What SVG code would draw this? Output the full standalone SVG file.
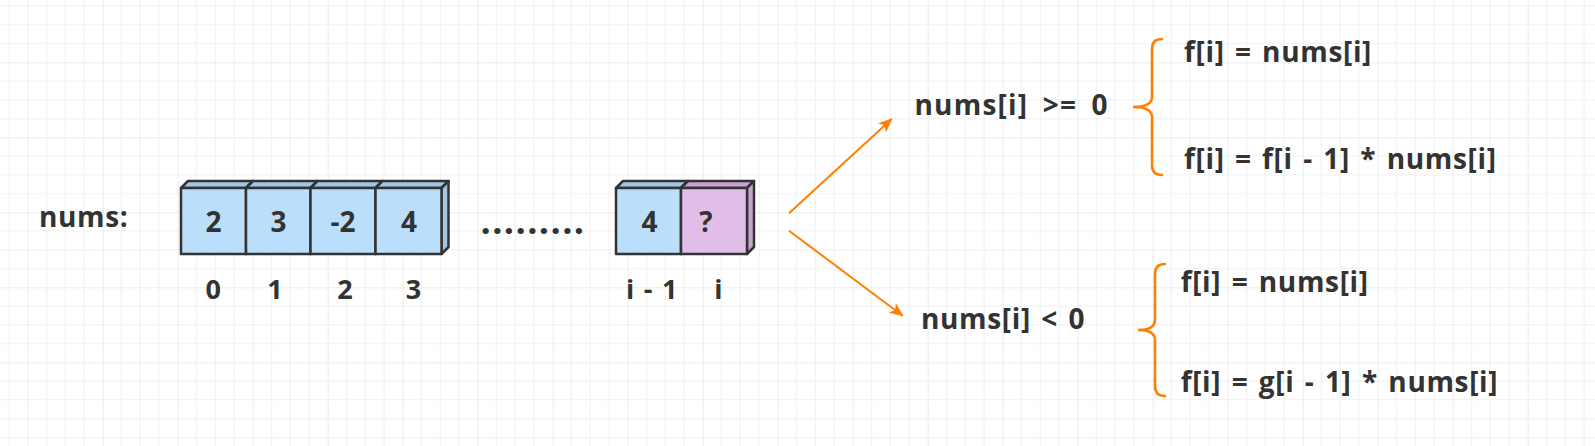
<svg xmlns="http://www.w3.org/2000/svg" width="1595" height="446" viewBox="0 0 1595 446">
<defs>
<pattern id="grid" patternUnits="userSpaceOnUse" x="27.7" y="62.3" width="75" height="75">
<rect width="75" height="75" fill="#ffffff"/>
<rect x="18.25" y="0" width="1" height="75" fill="#f0f0f0"/>
<rect x="37" y="0" width="1" height="75" fill="#f0f0f0"/>
<rect x="55.75" y="0" width="1" height="75" fill="#f0f0f0"/>
<rect x="0" y="18.25" width="75" height="1" fill="#f0f0f0"/>
<rect x="0" y="37" width="75" height="1" fill="#f0f0f0"/>
<rect x="0" y="55.75" width="75" height="1" fill="#f0f0f0"/>
<rect x="-0.5" y="0" width="1.2" height="75" fill="#e4e4e4"/>
<rect x="0" y="-0.5" width="75" height="1.2" fill="#e4e4e4"/>
</pattern>
<marker id="arrow" viewBox="0 0 14 12" refX="13" refY="6" markerWidth="14" markerHeight="12" markerUnits="userSpaceOnUse" orient="auto">
<path d="M0,0 L14,6 L0,12 L3.5,6 Z" fill="#ff8000"/>
</marker>
</defs>
<style>
.t{font-family:"Open Sans","Noto Sans","DejaVu Sans",sans-serif;font-weight:700;fill:#333333;font-size:28px;letter-spacing:0.66px;word-spacing:2.5px}
.d{font-family:"Open Sans","Noto Sans","DejaVu Sans",sans-serif;font-weight:700;fill:#333333;font-size:28px;text-anchor:middle}
.idx{text-anchor:middle;letter-spacing:0;font-size:27px}
.wide{word-spacing:6px;letter-spacing:1.2px}
.front{stroke:#333333;stroke-width:2.5;stroke-linejoin:round}
.blue .front{fill:#bbdefb}
.blue .face{fill:#a3c6e4;stroke:#333333;stroke-width:2.5;stroke-linejoin:round}
.purple .front{fill:#e1bee7}
.purple .face{fill:#c9a3cf;stroke:#333333;stroke-width:2.5;stroke-linejoin:round}
.conn{stroke:#ff8000;stroke-width:2;fill:none}
.brace{stroke:#ff8000;stroke-width:2.5;fill:none;stroke-linecap:round}
</style>
<rect x="0" y="0" width="1595" height="446" fill="url(#grid)"/>

<g id="label-nums"><text class="t" x="39" y="226.7">nums:</text></g>

<g id="cell-0" class="blue">
<polygon class="face" points="181,188 188,181 253,181 246,188"/>
<polygon class="face" points="246,188 253,181 253,247 246,254"/>
<rect class="front" x="181" y="188" width="65" height="66"/>
<text class="d" x="213.5" y="231.5">2</text>
</g>
<g id="cell-1" class="blue">
<polygon class="face" points="246,188 253,181 317.5,181 310.5,188"/>
<polygon class="face" points="310.5,188 317.5,181 317.5,247 310.5,254"/>
<rect class="front" x="246" y="188" width="64.5" height="66"/>
<text class="d" x="278.5" y="231.5">3</text>
</g>
<g id="cell-2" class="blue">
<polygon class="face" points="310.5,188 317.5,181 382.5,181 375.5,188"/>
<polygon class="face" points="375.5,188 382.5,181 382.5,247 375.5,254"/>
<rect class="front" x="310.5" y="188" width="65" height="66"/>
<text class="d" x="343" y="231.5">-2</text>
</g>
<g id="cell-3" class="blue">
<polygon class="face" points="375.5,188 382.5,181 448.5,181 441.5,188"/>
<polygon class="face" points="441.5,188 448.5,181 448.5,247 441.5,254"/>
<rect class="front" x="375.5" y="188" width="66" height="66"/>
<text class="d" x="409" y="231.5">4</text>
</g>

<g id="ellipsis"><text class="t" x="480.5" y="234" style="font-size:36px;letter-spacing:1.4px">.........</text></g>

<g id="cell-im1" class="blue">
<polygon class="face" points="616,188 623,181 688,181 681,188"/>
<polygon class="face" points="681,188 688,181 688,247 681,254"/>
<rect class="front" x="616" y="188" width="65" height="66"/>
<text class="d" x="649.5" y="231.5">4</text>
</g>
<g id="cell-i" class="purple">
<polygon class="face" points="681,188 688,181 754,181 747,188"/>
<polygon class="face" points="747,188 754,181 754,247 747,254"/>
<rect class="front" x="681" y="188" width="66" height="66"/>
<text class="d" x="706" y="231.5">?</text>
</g>

<g id="indices">
<text class="t idx" x="213.3" y="299">0</text>
<text class="t idx" x="275" y="299">1</text>
<text class="t idx" x="345" y="299">2</text>
<text class="t idx" x="413.5" y="299">3</text>
<text class="t idx" x="651.7" y="299">i - 1</text>
<text class="t idx" x="718.3" y="299">i</text>
</g>

<g id="connectors">
<line class="conn" x1="789" y1="213.3" x2="891.7" y2="119" marker-end="url(#arrow)"/>
<line class="conn" x1="789" y1="230.7" x2="902.7" y2="315.7" marker-end="url(#arrow)"/>
</g>

<g id="cond-ge"><text class="t wide" x="914.5" y="115">nums[i] &gt;= 0</text></g>
<g id="cond-lt"><text class="t" x="921" y="329">nums[i] &lt; 0</text></g>

<g id="brace-ge"><path class="brace" d="M1162,39 Q1152,39 1152,49 L1152,97 Q1152,107 1133,107 Q1152,107 1152,117 L1152,165 Q1152,175 1162,175"/></g>
<g id="brace-lt"><path class="brace" d="M1165,264 Q1155,264 1155,274 L1155,320 Q1155,330 1138,330 Q1155,330 1155,340 L1155,386 Q1155,396 1165,396"/></g>

<g id="ge-case-1"><text class="t" x="1184" y="62">f[i] = nums[i]</text></g>
<g id="ge-case-2"><text class="t" x="1184" y="169">f[i] = f[i - 1] * nums[i]</text></g>
<g id="lt-case-1"><text class="t" x="1180.7" y="292">f[i] = nums[i]</text></g>
<g id="lt-case-2"><text class="t" x="1180.7" y="392">f[i] = g[i - 1] * nums[i]</text></g>
</svg>
